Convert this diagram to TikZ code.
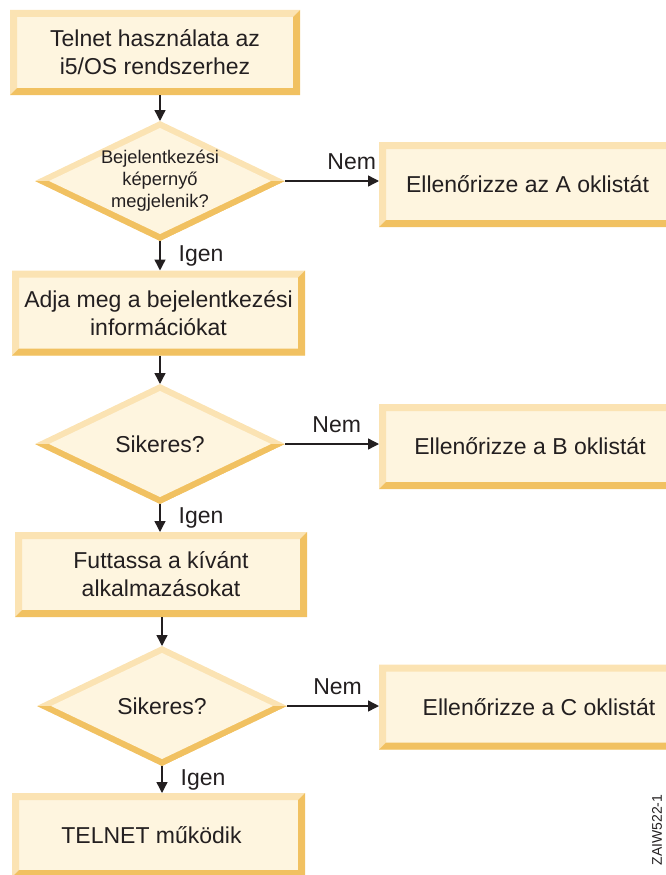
\documentclass[tikz,border=0pt]{standalone}
\usepackage{fontspec}
\setmainfont{Liberation Sans}
\usetikzlibrary{arrows.meta,shapes.geometric}

\definecolor{boxin}{HTML}{FEF5DF}
\definecolor{boxlite}{HTML}{FBE3B3}
\definecolor{boxgold}{HTML}{F1C161}
\definecolor{ink}{HTML}{231F20}

\newcommand{\boxfont}{\fontsize{23}{28}\selectfont}
\newcommand{\askfont}{\fontsize{18.3}{22}\selectfont}

\tikzset{
	stepbox/.style={rectangle, fill=boxin, inner sep=0pt, outer sep=0pt,
		minimum height=85pt, align=center, text=ink, font=\boxfont,
		path picture={
			\fill[boxlite] (path picture bounding box.north west) -- (path picture bounding box.north east)
				-- ([xshift=-7pt,yshift=-7pt]path picture bounding box.north east)
				-- ([xshift=7pt,yshift=-7pt]path picture bounding box.north west)
				-- ([xshift=7pt,yshift=7pt]path picture bounding box.south west)
				-- (path picture bounding box.south west) -- cycle;
			\fill[boxgold] (path picture bounding box.south west) -- (path picture bounding box.south east)
				-- (path picture bounding box.north east)
				-- ([xshift=-7pt,yshift=-7pt]path picture bounding box.north east)
				-- ([xshift=-7pt,yshift=7pt]path picture bounding box.south east)
				-- ([xshift=7pt,yshift=7pt]path picture bounding box.south west) -- cycle;
		}},
	decision/.style={diamond, fill=boxlite, inner sep=0pt, outer sep=0pt, aspect=2.08,
		minimum width=250pt, minimum height=120pt, align=center, text=ink, font=\boxfont,
		path picture={
			\fill[boxgold] (path picture bounding box.west) -- (path picture bounding box.south)
				-- (path picture bounding box.east) -- cycle;
			\fill[boxin] ([yshift=-7pt]path picture bounding box.north)
				-- ([xshift=14pt]path picture bounding box.west)
				-- ([yshift=7pt]path picture bounding box.south)
				-- ([xshift=-14pt]path picture bounding box.east) -- cycle;
		}},
	flow/.style={-{Triangle[length=11pt,width=11pt]}, line width=1.4pt, ink},
	answer/.style={inner sep=0pt, text=ink, font=\boxfont}
}

\begin{document}
\begin{tikzpicture}[x=1pt, y=-1pt]
	\useasboundingbox (0,0) rectangle (666,875);

	% left column
	\node[stepbox, minimum width=290pt] (start) at (155,52.5) {Telnet használata az\\i5/OS rendszerhez};
	\node[decision, font=\askfont] (login) at (160,181) {Bejelentkezési\\képernyő\\megjelenik?};
	\node[stepbox, minimum width=293pt] (signon) at (158.5,313) {Adja meg a bejelentkezési\\információkat};
	\node[decision] (ok1) at (160,444) {Sikeres?};
	\node[stepbox, minimum width=292pt] (apps) at (161,574.5) {Futtassa a kívánt\\alkalmazásokat};
	\node[decision] (ok2) at (162,706) {Sikeres?};
	\node[stepbox, minimum width=293pt, minimum height=84pt] (works) at (158.5,835) {TELNET működik\hspace*{14pt}};

	% right column
	\node[stepbox, minimum width=297pt] (checkA) at (527.5,184.5) {Ellenőrizze az A oklistát};
	\node[stepbox, minimum width=302pt] (checkB) at (530,446.5) {Ellenőrizze a B oklistát};
	\node[stepbox, minimum width=320pt] (checkC) at (539,707) {Ellenőrizze a C oklistát};

	% connectors
	\draw[flow] (start.south -| login.north) -- (login.north);
	\draw[flow] (login.south) -- node[answer, right=18pt] (yes1) {Igen} (login.south |- signon.north);
	\draw[flow] (login.east) -- node[answer, above=11pt, pos=0.71] (no1) {Nem} (login.east -| checkA.west);
	\draw[flow] (signon.south -| ok1.north) -- (ok1.north);
	\draw[flow] (ok1.south) -- node[answer, right=18pt] (yes2) {Igen} (ok1.south |- apps.north);
	\draw[flow] (ok1.east) -- node[answer, above=11pt, pos=0.55] (no2) {Nem} (ok1.east -| checkB.west);
	\draw[flow] (apps.south -| ok2.north) -- (ok2.north);
	\draw[flow] (ok2.south) -- node[answer, right=18pt] (yes3) {Igen} (ok2.south |- works.north);
	\draw[flow] (ok2.east) -- node[answer, above=11pt, pos=0.55] (no3) {Nem} (ok2.east -| checkC.west);

	\node[rotate=90, text=ink, font=\fontsize{14}{16}\selectfont] (figid) at (657,830) {ZAIW522-1};
\end{tikzpicture}
\end{document}
